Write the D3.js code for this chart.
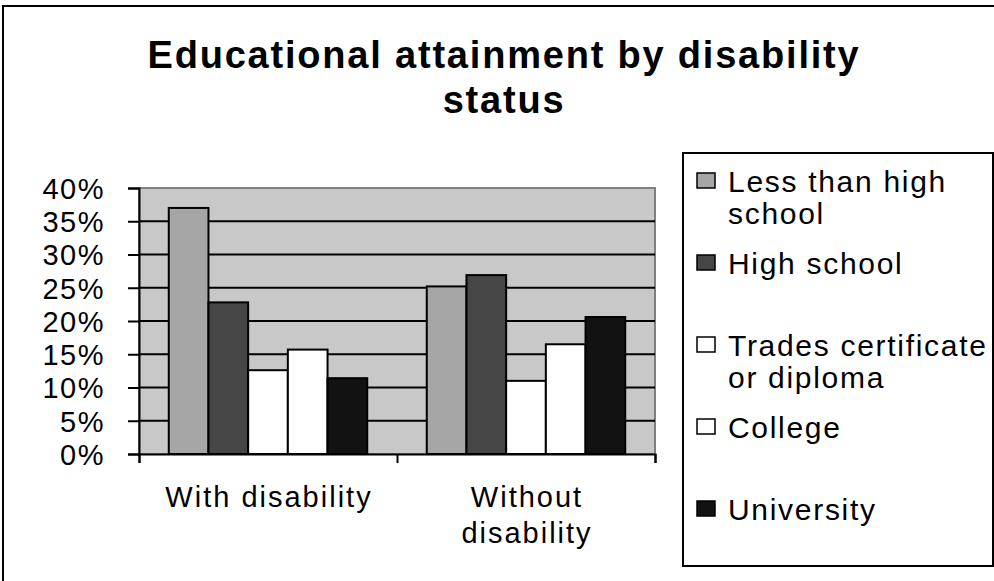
<!DOCTYPE html>
<html>
<head>
<meta charset="utf-8">
<script src="https://cdn.jsdelivr.net/npm/d3@7"></script>
<style>
  body { margin: 0; background: #fff; }
  text { font-family: "Liberation Sans", Arial, sans-serif; fill: #000; }
</style>
</head>
<body>
<div id="chart"></div>
<script>
var titleLines = ["Educational attainment by disability", "status"];

var categories = ["With disability", "Without disability"];

var series = ["Less than high school", "High school", "Trades certificate or diploma", "College", "University"];
var seriesColors = ["#a6a6a6", "#464646", "#ffffff", "#ffffff", "#121212"];

// percent values, one array per series, order follows categories
var lessThanHigh = [37.0, 25.2];
var highSchool   = [22.8, 26.9];
var trades       = [12.6, 11.0];
var college      = [15.7, 16.5];
var university   = [11.4, 20.6];

var yTicks = [0, 5, 10, 15, 20, 25, 30, 35, 40];

var seriesValues = [lessThanHigh, highSchool, trades, college, university];

var width = 994, height = 581;

var svg = d3.select("#chart").append("svg")
    .attr("width", width)
    .attr("height", height);

// outer chart frame (right and bottom run off the picture)
svg.append("rect")
    .attr("x", 3).attr("y", 6)
    .attr("width", 1010).attr("height", 600)
    .attr("fill", "#fff")
    .attr("stroke", "#000")
    .attr("stroke-width", 2);

// title
svg.selectAll("text.title")
    .data(titleLines)
    .enter().append("text")
    .attr("class", "title")
    .attr("x", 504)
    .attr("y", function(d, i) { return 68 + i * 45; })
    .attr("text-anchor", "middle")
    .style("font-size", "38px")
    .style("font-weight", "bold")
    .style("letter-spacing", "1.8px")
    .text(function(d) { return d; });

var plot = { left: 139, right: 655, top: 188, bottom: 454 };

var y = d3.scaleLinear().domain([0, 40]).range([plot.bottom, plot.top]);

var x0 = d3.scaleBand().domain(categories).range([plot.left, plot.right]).padding(0);

var x1 = d3.scaleBand().domain(series).range([0, x0.bandwidth()])
    .paddingInner(0).paddingOuter(0.75);

// plot background
svg.append("rect")
    .attr("x", plot.left).attr("y", plot.top)
    .attr("width", plot.right - plot.left)
    .attr("height", plot.bottom - plot.top)
    .attr("fill", "#c8c8c8")
    .attr("stroke", "#808080")
    .attr("stroke-width", 2);

// gridlines
svg.append("g")
    .selectAll("line")
    .data(yTicks.filter(function(t) { return t > 0 && t < 40; }))
    .enter().append("line")
    .attr("x1", plot.left).attr("x2", plot.right)
    .attr("y1", function(d) { return y(d); })
    .attr("y2", function(d) { return y(d); })
    .attr("stroke", "#000")
    .attr("stroke-width", 2);

// bars
var groups = svg.append("g")
    .selectAll("g")
    .data(categories)
    .enter().append("g")
    .attr("transform", function(d) { return "translate(" + x0(d) + ",0)"; });

groups.selectAll("rect")
    .data(function(c, ci) {
        return series.map(function(s, si) {
            return { key: s, value: seriesValues[si][ci], color: seriesColors[si] };
        });
    })
    .enter().append("rect")
    .attr("x", function(d) { return x1(d.key); })
    .attr("width", x1.bandwidth())
    .attr("y", function(d) { return y(d.value); })
    .attr("height", function(d) { return y(0) - y(d.value); })
    .attr("fill", function(d) { return d.color; })
    .attr("stroke", "#000")
    .attr("stroke-width", 2);

// y axis
var yAxis = d3.axisLeft(y)
    .tickValues(yTicks)
    .tickSize(11)
    .tickPadding(0)
    .tickFormat(function(d) { return d + "%"; });

var yg = svg.append("g")
    .attr("transform", "translate(" + plot.left + ",0)")
    .call(yAxis);
yg.select(".domain").attr("stroke", "#000").attr("stroke-width", 2);
yg.selectAll(".tick line").attr("stroke", "#000").attr("stroke-width", 2);
yg.selectAll(".tick text")
    .attr("x", -34)
    .attr("dy", "0.36em")
    .style("font-size", "29px")
    .style("letter-spacing", "1.5px");

// x axis, ticks between categories
var xAxisScale = d3.scaleLinear().domain([0, categories.length]).range([plot.left, plot.right]);
var xg = svg.append("g")
    .attr("transform", "translate(0," + plot.bottom + ")")
    .call(d3.axisBottom(xAxisScale).ticks(categories.length).tickSize(9).tickFormat(""));
xg.select(".domain").attr("stroke", "#000").attr("stroke-width", 2);
xg.selectAll(".tick line").attr("stroke", "#000").attr("stroke-width", 2);

function wrapLines(textSel, words, maxWidth) {
    var lines = [], line = [];
    words.forEach(function(w) {
        var trial = line.concat([w]).join(" ");
        textSel.text(trial);
        if (line.length && textSel.node().getComputedTextLength() > maxWidth) {
            lines.push(line.join(" "));
            line = [w];
        } else {
            line.push(w);
        }
    });
    lines.push(line.join(" "));
    textSel.text(null);
    return lines;
}

// category labels
categories.forEach(function(c) {
    var t = svg.append("text")
        .attr("text-anchor", "middle")
        .style("font-size", "29px")
        .style("letter-spacing", "2px");
    var lines = wrapLines(t, c.split(" "), 230);
    lines.forEach(function(l, i) {
        t.append("tspan")
            .attr("x", x0(c) + x0.bandwidth() / 2 + 1)
            .attr("y", 507 + i * 36)
            .text(l);
    });
});

// legend
var legend = svg.append("g");
legend.append("rect")
    .attr("x", 683).attr("y", 153)
    .attr("width", 310).attr("height", 413)
    .attr("fill", "#fff")
    .attr("stroke", "#000")
    .attr("stroke-width", 2);

series.forEach(function(s, i) {
    var base = 192 + i * 82;
    legend.append("rect")
        .attr("x", 697).attr("y", base - 19)
        .attr("width", 18).attr("height", 15)
        .attr("fill", seriesColors[i])
        .attr("stroke", "#000")
        .attr("stroke-width", 1.5);
    var t = legend.append("text")
        .style("font-size", "30px")
        .style("letter-spacing", "1.7px");
    var lines = wrapLines(t, s.split(" "), 262);
    lines.forEach(function(l, j) {
        t.append("tspan")
            .attr("x", 728)
            .attr("y", base + j * 32)
            .text(l);
    });
});
</script>
</body>
</html>
